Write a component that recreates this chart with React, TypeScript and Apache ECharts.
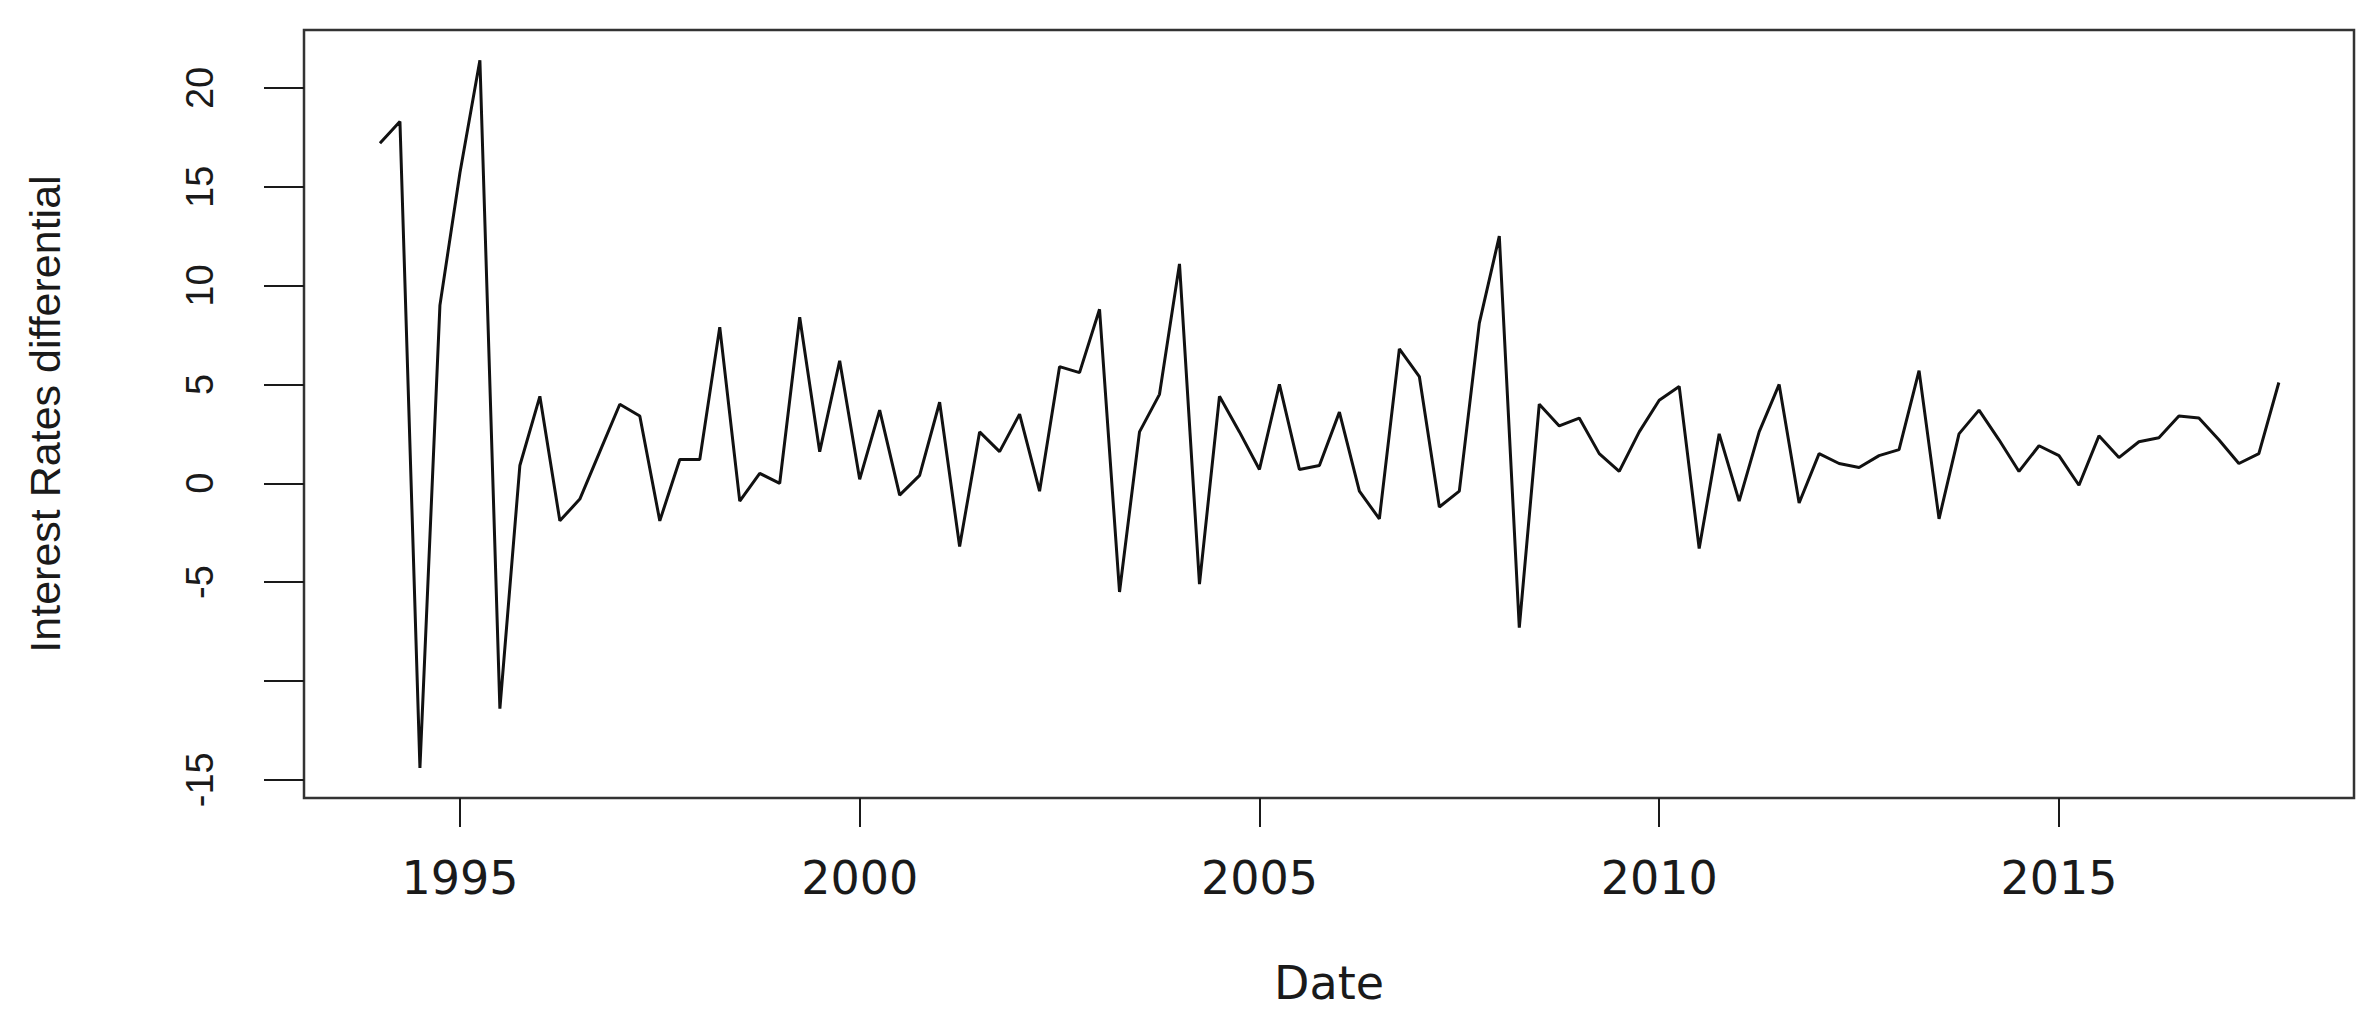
import React, { useEffect, useRef } from "react";
import * as echarts from "echarts";

// Quarterly series, 1994 Q1 .. 2017 Q4
const START_YEAR = 1994;
const PERIODS_PER_YEAR = 4;
const values: number[] = [
  17.2, 18.3, -14.4, 9.0, 15.7, 21.4, -11.4, 0.9, 4.4, -1.9,
  -0.8, 1.6, 4.0, 3.4, -1.9, 1.2, 1.2, 7.9, -0.9, 0.5,
  0.0, 8.4, 1.6, 6.2, 0.2, 3.7, -0.6, 0.4, 4.1, -3.2,
  2.6, 1.6, 3.5, -0.4, 5.9, 5.6, 8.8, -5.5, 2.6, 4.5,
  11.1, -5.1, 4.4, 2.6, 0.7, 5.0, 0.7, 0.9, 3.6, -0.4,
  -1.8, 6.8, 5.4, -1.2, -0.4, 8.1, 12.5, -7.3, 4.0, 2.9,
  3.3, 1.5, 0.6, 2.6, 4.2, 4.9, -3.3, 2.5, -0.9, 2.6,
  5.0, -1.0, 1.5, 1.0, 0.8, 1.4, 1.7, 5.7, -1.8, 2.5,
  3.7, 2.2, 0.6, 1.9, 1.4, -0.1, 2.4, 1.3, 2.1, 2.3,
  3.4, 3.3, 2.2, 1.0, 1.5, 5.1,
];
const xTickYears = [1995, 2000, 2005, 2010, 2015];
const yTickValues = [-15, -10, -5, 0, 5, 10, 15, 20];
const hiddenYLabels = [-10];
const xTitle = "Date";
const yTitle = "Interest Rates differential";

const X_MIN = 1993.05;
const X_MAX = 2018.69;
const Y_MIN = -15.92;
const Y_MAX = 22.93;

export default function App() {
  const ref = useRef<HTMLDivElement>(null);

  useEffect(() => {
    document.body.style.margin = "0";
    if (!ref.current) return;
    const chart = echarts.init(ref.current, undefined, { renderer: "svg" });
    const data = values.map((v, i) => [START_YEAR + i / PERIODS_PER_YEAR, v]);
    const ink = "#1a1a1a";
    chart.setOption({
      animation: false,
      backgroundColor: "#ffffff",
      grid: {
        left: 304,
        right: 20,
        top: 30,
        bottom: 221,
        show: true,
        borderColor: "#333",
        borderWidth: 2.5,
        backgroundColor: "transparent",
      },
      xAxis: {
        type: "value",
        min: X_MIN,
        max: X_MAX,
        axisLine: { show: false, onZero: false },
        splitLine: { show: false },
        axisTick: {
          show: true,
          length: 29,
          customValues: xTickYears,
          lineStyle: { color: ink, width: 2 },
        },
        axisLabel: {
          customValues: xTickYears,
          margin: 57,
          fontSize: 46,
          fontFamily: "DejaVu Sans",
          color: ink,
          formatter: (v: number) => String(Math.round(v)),
        },
        name: xTitle,
        nameLocation: "middle",
        nameGap: 162,
        nameTextStyle: { fontSize: 46, fontFamily: "DejaVu Sans", color: ink },
      },
      yAxis: {
        type: "value",
        min: Y_MIN,
        max: Y_MAX,
        axisLine: { show: false, onZero: false },
        splitLine: { show: false },
        axisTick: {
          show: true,
          length: 40,
          customValues: yTickValues,
          lineStyle: { color: ink, width: 2 },
        },
        axisLabel: {
          customValues: yTickValues,
          rotate: 90,
          margin: 85,
          fontSize: 38,
          fontFamily: "Liberation Sans",
          color: ink,
          formatter: (v: number) =>
            hiddenYLabels.includes(Math.round(v)) ? "" : String(Math.round(v)),
        },
        name: yTitle,
        nameLocation: "middle",
        nameGap: 238,
        nameTextStyle: { fontSize: 43, fontFamily: "Liberation Sans", color: ink },
      },
      series: [
        {
          type: "line",
          data,
          showSymbol: false,
          symbol: "none",
          lineStyle: { color: "#111", width: 3 },
        },
      ],
    });
    return () => chart.dispose();
  }, []);

  return (
    <div
      ref={ref}
      style={{ position: "absolute", left: 0, top: 0, width: 2374, height: 1019 }}
    />
  );
}
